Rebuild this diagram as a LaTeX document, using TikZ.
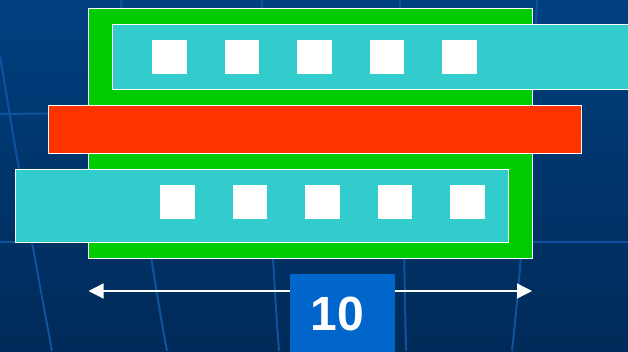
\documentclass[tikz,border=0pt]{standalone}
\usepackage{fontspec}
\setmainfont{Liberation Sans}
\usetikzlibrary{arrows.meta}
\definecolor{bgtop}{RGB}{0,64,128}
\definecolor{bgbot}{RGB}{0,42,88}
\definecolor{gridcolor}{RGB}{16,82,158}
\definecolor{activecolor}{RGB}{0,204,0}
\definecolor{metalcolor}{RGB}{51,204,204}
\definecolor{polycolor}{RGB}{255,51,0}
\definecolor{labelcolor}{RGB}{0,102,204}

\begin{document}
\begin{tikzpicture}[%
    x=1pt, y=-1pt,              % pixel grid, y going down
    >={Triangle[length=15pt,width=15pt]},
    ]
\tikzset{
  layer/.style={draw=white, line width=1pt},
  active/.style={layer, fill=activecolor},
  metal/.style={layer, fill=metalcolor},
  poly/.style={layer, fill=polycolor},
  contact/.style={fill=white},
  globe/.style={draw=gridcolor, line width=2pt},
  dimline/.style={draw=white, line width=1.3pt, <->},
  dimlabel/.style={fill=labelcolor, text=white, minimum width=105pt, minimum height=80pt,
    inner sep=0pt, font=\bfseries\fontsize{48}{48}\selectfont},
}
\useasboundingbox (0,0) rectangle (628,351);
\clip (0,0) rectangle (628,351);

% background
\shade[top color=bgtop, bottom color=bgbot] (0,0) rectangle (628,351);
\draw[globe] (0,55) .. controls (15,150) and (35,260) .. (52,351);
\draw[globe] (121,0) .. controls (130,120) and (150,260) .. (167,351);
\draw[globe] (262,0) .. controls (266,120) and (272,260) .. (279,351);
\draw[globe] (400,0) .. controls (402,120) and (404,260) .. (406,351);
\draw[globe] (537,0) .. controls (532,120) and (522,260) .. (512,351);
\draw[globe] (0,242) -- (628,242);
\draw[globe] (0,114) -- (90,113);

% layout
\draw[active] (88.5,8.5) rectangle (532,258);
\draw[metal] (112.5,24.5) rectangle (640,89);
\draw[poly] (48,105) rectangle (581,153);
\draw[metal] (15,169.5) rectangle (508,242);

\foreach \i in {0,...,4} {
  \fill[contact] ({152+72.6*\i},40) rectangle +(34.5,33.7);
  \fill[contact] ({160+72.6*\i},185) rectangle +(34.5,34);
}

%dimension
\coordinate (dimL) at (88.5,291);
\coordinate (dimR) at (532,291);
\draw[dimline] (dimL) -- (dimR);
\node[dimlabel, anchor=north] (width) at (342.5,274) {10\kern10pt};

\end{tikzpicture}
\end{document}
